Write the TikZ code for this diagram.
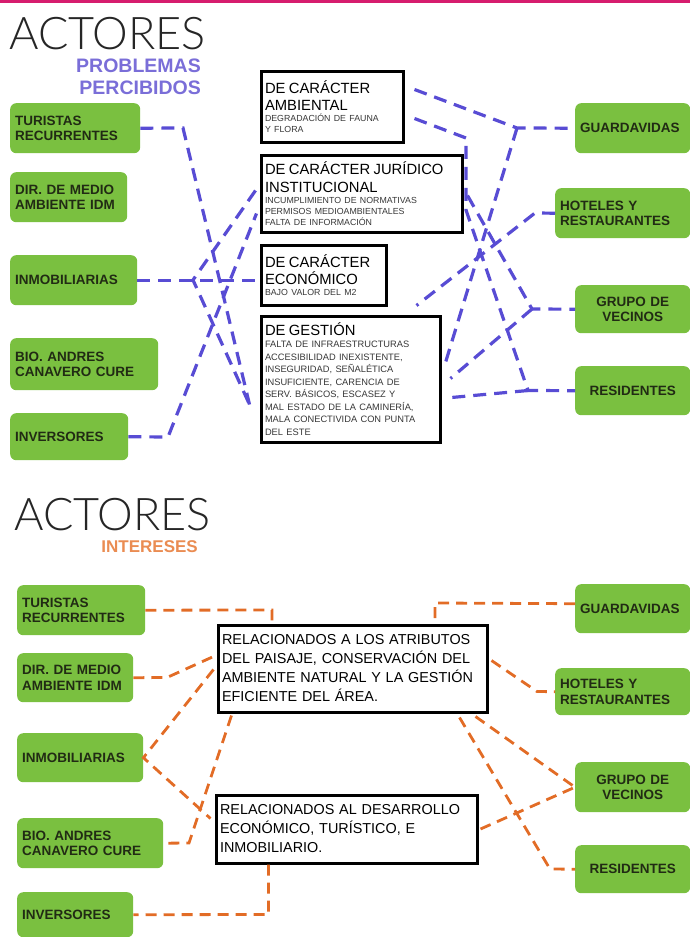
\documentclass[tikz,border=0pt]{standalone}
\usepackage{fontspec}
\setmainfont{Liberation Sans}
\newfontfamily\titlefont{Lato Light}
\usetikzlibrary{calc}
\definecolor{topbar}{RGB}{214,28,110}
\definecolor{actgreen}{RGB}{122,192,64}
\definecolor{acttext}{RGB}{33,43,20}
\definecolor{probpurple}{RGB}{88,76,212}
\definecolor{subpurple}{RGB}{122,110,216}
\definecolor{intorange}{RGB}{226,108,38}
\definecolor{suborange}{RGB}{234,140,82}
\definecolor{smallgray}{RGB}{55,55,55}
\newcommand\bhead{\fontsize{14.8}{17.5}\selectfont}
\newcommand\bsmall{\fontsize{8.8}{11}\selectfont\color{smallgray}}
\newcommand\bsmallD{\fontsize{9.3}{12.5}\selectfont\color{smallgray}}
\newcommand\binter{\fontsize{14.4}{19}\selectfont}
\tikzset{
 actor/.style={fill=actgreen,rounded corners=6pt,text=acttext,anchor=north west,inner xsep=5pt,inner ysep=0pt,align=left,font=\fontsize{13.5}{15.5}\selectfont\bfseries},
 probbox/.style={draw=black,line width=3pt,fill=white,anchor=north west,inner xsep=4pt,inner ysep=2pt,align=left},
 pline/.style={draw=probpurple,line width=3.2pt,dash pattern=on 13pt off 8pt},
 oline/.style={draw=intorange,line width=2.8pt,dash pattern=on 11pt off 7pt},
 bigtitle/.style={inner sep=0pt,anchor=base west,text=black!85,font=\titlefont\fontsize{45}{45}\selectfont},
 subtitle/.style={inner sep=0pt,anchor=north east,align=right,font=\bfseries\fontsize{19.5}{22}\selectfont}
}
\begin{document}
\begin{tikzpicture}[x=1pt,y=-1pt]
\useasboundingbox (0,0) rectangle (690,937);
\fill[topbar] (0,0) rectangle (690,3);
% problemas percibidos
\node[bigtitle] (act1) at (9,49) {ACTORES};
\node[subtitle,text=subpurple] (prob) at (201,59) {PROBLEMAS\\PERCIBIDOS};
\foreach \nm/\xx/\yy/\ww/\hh/\txt in {tur/10/103/130/50/{TURISTAS\\RECURRENTES},dir/10/172/117/50/{DIR. DE MEDIO\\AMBIENTE IDM},inm/10/255/127/50/INMOBILIARIAS,bio/10/338/148/52/{BIO. ANDRES\\CANAVERO CURE},inv/10/413/118/47/INVERSORES,guard/575/103/115/50/GUARDAVIDAS,hot/555/188/135/50/{HOTELES Y\\RESTAURANTES},vec/575/285/115/48/{\centering GRUPO DE\\VECINOS\endgraf},res/575/366/115/49/{\centering RESIDENTES\endgraf}}{
\pgfmathsetmacro{\tw}{\ww-10}
\node[actor,text width=\tw pt,minimum height=\hh pt] (\nm) at (\xx,\yy) {\txt};}
\node[probbox,text width=134pt,minimum height=71pt] (amb) at (259.5,69.5) {{\bhead DE CARÁCTER\\AMBIENTAL\par}{\bsmall DEGRADACIÓN DE FAUNA\\Y FLORA\par}};
\node[probbox,text width=193pt,minimum height=77pt] (jur) at (259.5,153.5) {{\bhead DE CARÁCTER JURÍDICO\\INSTITUCIONAL\par}{\bsmall INCUMPLIMIENTO DE NORMATIVAS\\PERMISOS MEDIOAMBIENTALES\\FALTA DE INFORMACIÓN\par}};
\node[probbox,text width=117pt,minimum height=60pt] (eco) at (259.5,243.5) {{\bhead DE CARÁCTER\\ECONÓMICO\par}{\bsmall BAJO VALOR DEL M2\par}};
\node[probbox,text width=171pt,minimum height=126pt] (ges) at (259.5,314.5) {{\bhead DE GESTIÓN\par}{\bsmallD FALTA DE INFRAESTRUCTURAS\\ACCESIBILIDAD INEXISTENTE,\\INSEGURIDAD, SEÑALÉTICA\\INSUFICIENTE, CARENCIA DE\\SERV. BÁSICOS, ESCASEZ Y\\MAL ESTADO DE LA CAMINERÍA,\\MALA CONECTIVIDA CON PUNTA\\DEL ESTE\par}};
\coordinate (tb) at (183,128);
\draw[pline] (tur.east) -- (tb) -- ($(ges.north west)+(-10,90)$);
\coordinate (ij) at (193,280);
\draw[pline] (inm.east) -- (inm.east -| eco.west);
\draw[pline] ($(jur.north west)+(-4,37)$) -- (ij) -- ($(ges.north west)+(-10,90)$);
\coordinate (ib) at (168,437);
\draw[pline] (inv.east) -- (ib) -- ($(jur.north west)+(-3,60)$);
\coordinate (gj) at (517,128);
\draw[pline] ($(amb.north east)+(10,20)$) -- (gj) -- (guard.west);
\draw[pline] (gj) -- ($(ges.north east)+(4,48)$);
\coordinate (av1) at (466,138);
\coordinate (av2) at (466,210);
\coordinate (rj) at (528,390.5);
\draw[pline] ($(amb.north east)+(10,49)$) -- (av1) -- (av2) -- (rj) -- (res.west);
\coordinate (vj) at (532,309);
\draw[pline] ($(jur.north east)+(4,42)$) -- (vj) -- (vec.west);
\draw[pline] (vj) -- ($(ges.north east)+(9,64)$);
\coordinate (hj) at (535,213);
\draw[pline] (hot.west) -- (hj) -- ($(ges.north east)+(-25,-9)$);
\draw[pline] (rj) -- ($(ges.north east)+(10,83)$);
% intereses
\node[bigtitle] (act2) at (14,530) {ACTORES};
\node[subtitle,text=suborange,font=\bfseries\fontsize{17}{20}\selectfont] (inter) at (198,540) {INTERESES};
\foreach \nm/\xx/\yy/\ww/\hh/\txt in {tur2/17/585/128/50/{TURISTAS\\RECURRENTES},dir2/17/653/116/49/{DIR. DE MEDIO\\AMBIENTE IDM},inm2/17/733/126/49/INMOBILIARIAS,bio2/17/818/146/50/{BIO. ANDRES\\CANAVERO CURE},inv2/17/892/116/45/INVERSORES,guard2/575/584/115/49/GUARDAVIDAS,hot2/555/668/135/47/{HOTELES Y\\RESTAURANTES},vec2/575/762/115/50/{\centering GRUPO DE\\VECINOS\endgraf},res2/575/845/115/48/{\centering RESIDENTES\endgraf}}{
\pgfmathsetmacro{\tw}{\ww-10}
\node[actor,text width=\tw pt,minimum height=\hh pt] (\nm) at (\xx,\yy) {\txt};}
\node[probbox,text width=261pt,minimum height=87pt,font=\binter] (intA) at (216.5,623.5) {RELACIONADOS A LOS ATRIBUTOS\\DEL PAISAJE, CONSERVACIÓN DEL\\AMBIENTE NATURAL Y LA GESTIÓN\\EFICIENTE DEL ÁREA.};
\node[probbox,text width=253pt,minimum height=68pt,font=\binter] (intB) at (214.5,793.5) {RELACIONADOS AL DESARROLLO\\ECONÓMICO, TURÍSTICO, E\\INMOBILIARIO.};
\coordinate (ta) at (272,610);
\draw[oline] (tur2.east) -- (ta) -- (ta |- intA.north);
\coordinate (da) at (167,677.5);
\draw[oline] (dir2.east) -- (da) -- ($(intA.north west)+(-3,33)$);
\draw[oline] ($(intA.north west)+(-3,46)$) -- (inm2.east) -- ($(intB.north west)+(-4,25)$);
\coordinate (ba) at (189,843);
\draw[oline] ($(intA.south west)+(15,2)$) -- (ba) -- (bio2.east);
\coordinate (va) at (268.5,914.5);
\draw[oline] ($(intB.south west)+(54,0)$) -- (va) -- (inv2.east);
\coordinate (ga) at (435,603);
\draw[oline] ($(guard2.west)+(0,-5)$) -- (ga) -- (ga |- intA.north);
\coordinate (ha) at (537,691.5);
\draw[oline] ($(intA.north east)+(3,37)$) -- (ha) -- (hot2.west);
\draw[oline] ($(intA.south east)+(-13,3)$) -- (vec2.west);
\coordinate (ra) at (550,869);
\draw[oline] ($(intA.south east)+(-29,4)$) -- (ra) -- (res2.west);
\draw[oline] ($(intB.east)+(2,0)$) -- (vec2.west);
\end{tikzpicture}
\end{document}
